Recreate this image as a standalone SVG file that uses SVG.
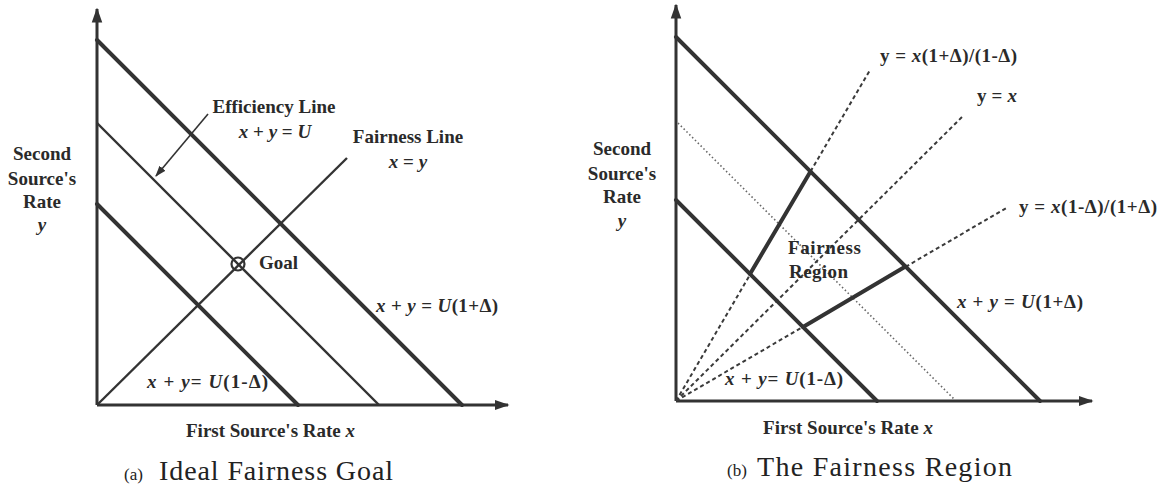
<svg xmlns="http://www.w3.org/2000/svg" width="1168" height="489" viewBox="0 0 1168 489">
<style>
.bg{fill:#fff}
.thick{stroke:#333;stroke-width:4;fill:none;stroke-linecap:round}
.thin{stroke:#333;stroke-width:2.4;fill:none}
.axis{stroke:#333;stroke-width:3;fill:none}
.dash{stroke:#3a3a3a;stroke-width:2;fill:none;stroke-dasharray:4 3}
.dot{stroke:#666;stroke-width:1.6;fill:none;stroke-dasharray:1.5 2.5}
.lbl{font-family:"Liberation Serif",serif;font-weight:bold;font-size:19px;fill:#2a2a2a}
.math{font-family:"Liberation Serif",serif;font-weight:bold;font-size:19px;fill:#2a2a2a}
.it{font-style:italic}
.cap{font-family:"Liberation Serif",serif;font-size:28px;fill:#222}
.capsm{font-family:"Liberation Serif",serif;font-size:17px;fill:#222}
</style>
<defs>
<marker id="ah" viewBox="0 0 10 10" refX="9" refY="5" markerWidth="5" markerHeight="5" orient="auto" markerUnits="strokeWidth">
<path d="M0,1.5 L10,5 L0,8.5 Z" fill="#333"/>
</marker>
<marker id="ah2" viewBox="0 0 10 10" refX="9" refY="5" markerWidth="7" markerHeight="7" orient="auto" markerUnits="strokeWidth">
<path d="M0,1.5 L10,5 L0,8.5 Z" fill="#333"/>
</marker>
</defs>
<rect class="bg" width="1168" height="489"/>

<g id="panel-a">
  <g id="a-axes">
    <line class="axis" x1="97" y1="405" x2="97" y2="9" marker-end="url(#ah)"/>
    <line class="axis" x1="97" y1="405" x2="508" y2="405" marker-end="url(#ah)"/>
  </g>
  <g id="a-connectors">
    <line class="thick" x1="97" y1="40" x2="462" y2="405"/>
    <line class="thin" x1="97" y1="123" x2="379" y2="405"/>
    <line class="thick" x1="97" y1="204" x2="298" y2="405"/>
    <line class="thin" x1="97" y1="405" x2="347" y2="158"/>
    <line stroke="#333" stroke-width="1.6" x1="208" y1="114" x2="156" y2="176" marker-end="url(#ah2)"/>
  </g>
  <g id="a-goal">
    <circle cx="238" cy="264" r="6.5" fill="none" stroke="#333" stroke-width="2.2"/>
    <text class="lbl" x="259" y="269" font-size="20">Goal</text>
  </g>
  <g id="a-efficiency-label">
    <text class="lbl" x="274" y="113" text-anchor="middle">Efficiency Line</text>
    <text class="math" x="275" y="138" text-anchor="middle"><tspan class="it">x</tspan> + <tspan class="it">y</tspan> = <tspan class="it">U</tspan></text>
  </g>
  <g id="a-fairness-label">
    <text class="lbl" x="408" y="143" text-anchor="middle">Fairness Line</text>
    <text class="math" x="408" y="168" text-anchor="middle"><tspan class="it">x</tspan> = <tspan class="it">y</tspan></text>
  </g>
  <g id="a-ylabel">
    <text class="lbl" x="42" y="160" text-anchor="middle">Second</text>
    <text class="lbl" x="42" y="185" text-anchor="middle">Source's</text>
    <text class="lbl" x="42" y="208" text-anchor="middle">Rate</text>
    <text class="lbl it" x="42" y="231" text-anchor="middle">y</text>
  </g>
  <g id="a-upper-label">
    <text class="math" x="376" y="312" textLength="122" lengthAdjust="spacing"><tspan class="it">x</tspan> + <tspan class="it">y</tspan> = <tspan class="it">U</tspan>(1+Δ)</text>
  </g>
  <g id="a-lower-label">
    <text class="math" x="147" y="388" textLength="121" lengthAdjust="spacing"><tspan class="it">x</tspan> + <tspan class="it">y</tspan>= <tspan class="it">U</tspan>(1-Δ)</text>
  </g>
  <g id="a-xlabel">
    <text class="lbl" x="186" y="437" textLength="169" lengthAdjust="spacing">First Source's Rate <tspan class="it">x</tspan></text>
  </g>
  <g id="a-caption">
    <text class="capsm" x="124" y="480">(a)</text>
    <text class="cap" x="159" y="480" textLength="234" lengthAdjust="spacing">Ideal Fairness Goal</text>
  </g>
</g>

<g id="panel-b">
  <g id="b-axes">
    <line class="axis" x1="676" y1="401" x2="676" y2="5" marker-end="url(#ah)"/>
    <line class="axis" x1="676" y1="401" x2="1092" y2="401" marker-end="url(#ah)"/>
  </g>
  <g id="b-connectors">
    <line class="dot" x1="678" y1="123" x2="955" y2="400"/>
    <line class="dash" x1="676" y1="401" x2="870" y2="70"/>
    <line class="dash" x1="676" y1="401" x2="962" y2="117"/>
    <line class="dash" x1="676" y1="401" x2="1008" y2="207"/>
    <line class="thick" x1="676" y1="37" x2="1040" y2="401"/>
    <line class="thick" x1="676" y1="200" x2="877" y2="401"/>
    <line class="thick" x1="750" y1="274" x2="810.5" y2="171.5"/>
    <line class="thick" x1="803" y1="327" x2="905.5" y2="266.5"/>
  </g>
  <g id="b-ylabel">
    <text class="lbl" x="622" y="155" text-anchor="middle">Second</text>
    <text class="lbl" x="622" y="180" text-anchor="middle">Source's</text>
    <text class="lbl" x="622" y="203" text-anchor="middle">Rate</text>
    <text class="lbl it" x="622" y="227" text-anchor="middle">y</text>
  </g>
  <g id="b-steep-label">
    <text class="math" x="880" y="62" textLength="137" lengthAdjust="spacing">y = <tspan class="it">x</tspan>(1+Δ)/(1-Δ)</text>
  </g>
  <g id="b-diag-label">
    <text class="math" x="977" y="102" textLength="40" lengthAdjust="spacing">y = <tspan class="it">x</tspan></text>
  </g>
  <g id="b-shallow-label">
    <text class="math" x="1019" y="213" textLength="138" lengthAdjust="spacing">y = <tspan class="it">x</tspan>(1-Δ)/(1+Δ)</text>
  </g>
  <g id="b-upper-label">
    <text class="math" x="957" y="308" textLength="126" lengthAdjust="spacing"><tspan class="it">x</tspan> + <tspan class="it">y</tspan> = <tspan class="it">U</tspan>(1+Δ)</text>
  </g>
  <g id="b-lower-label">
    <text class="math" x="725" y="385" textLength="118" lengthAdjust="spacing"><tspan class="it">x</tspan> + <tspan class="it">y</tspan>= <tspan class="it">U</tspan>(1-Δ)</text>
  </g>
  <g id="b-region-label">
    <text class="lbl" x="788" y="254" textLength="73" lengthAdjust="spacing">Fairness</text>
    <text class="lbl" x="789" y="278" textLength="59" lengthAdjust="spacing">Region</text>
  </g>
  <g id="b-xlabel">
    <text class="lbl" x="763" y="434" textLength="170" lengthAdjust="spacing">First Source's Rate <tspan class="it">x</tspan></text>
  </g>
  <g id="b-caption">
    <text class="capsm" x="727" y="476">(b)</text>
    <text class="cap" x="757" y="476" textLength="255" lengthAdjust="spacing">The Fairness Region</text>
  </g>
</g>
</svg>
